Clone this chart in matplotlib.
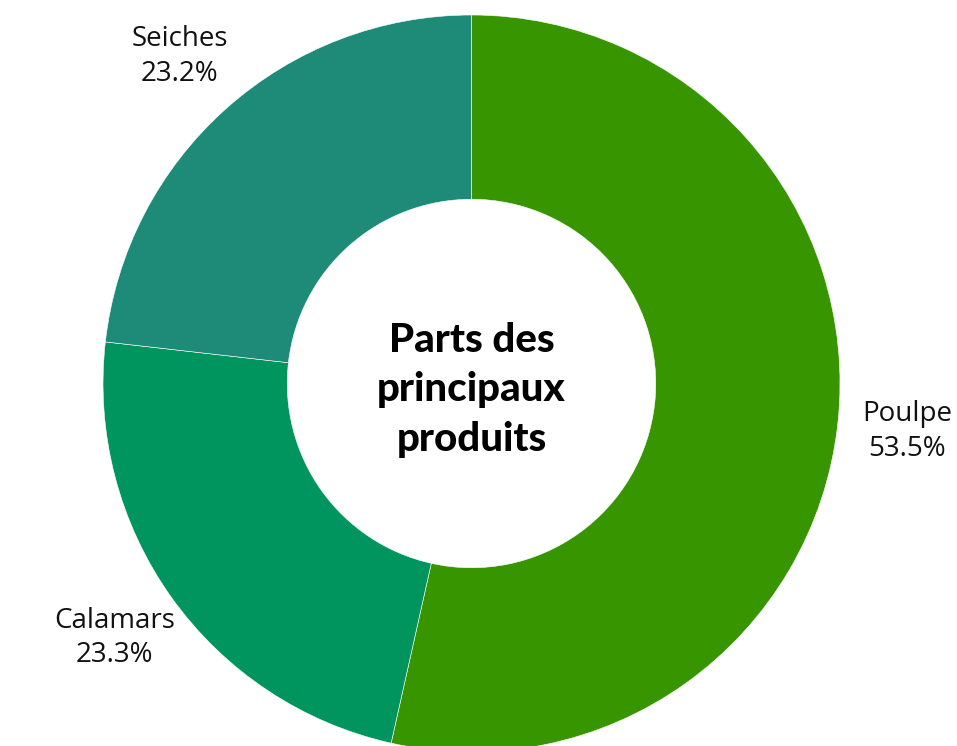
import matplotlib.pyplot as plt

products = ['Poulpe', 'Calamars', 'Seiches']
shares = [53.5, 23.3, 23.2]
colors = ['#379600', '#00955f', '#1e8a78']
center_title = 'Parts des\nprincipaux\nproduits'

W, H = 957, 746
fig = plt.figure(figsize=(W / 100, H / 100), dpi=100)
ax = fig.add_axes([0, 0, 1, 1])

radius = 368.5
labels = [f'{p}\n{s}%' for p, s in zip(products, shares)]
wedges, texts = ax.pie(shares, labels=labels, colors=colors, startangle=90, counterclock=False,
                       radius=radius, center=(471.5, H - 383.5), labeldistance=1.19,
                       wedgeprops=dict(width=radius * 0.5, edgecolor='white', linewidth=0.4),
                       textprops=dict(fontsize=20, color='#111111', linespacing=1.3))
for t in texts:
    t.set_ha('center')
    t.set_va('center')
    t.set_family(['Open Sans', 'DejaVu Sans'])

ax.text(471.5, H - 390, center_title, ha='center', va='center', fontsize=29,
        fontweight='black', family='Lato', linespacing=1.42)

# pie() resets the limits, so put the pixel frame back afterwards
ax.set_xlim(0, W)
ax.set_ylim(0, H)
ax.set_aspect('equal')
ax.axis('off')

fig.savefig('out.png', dpi=100)
